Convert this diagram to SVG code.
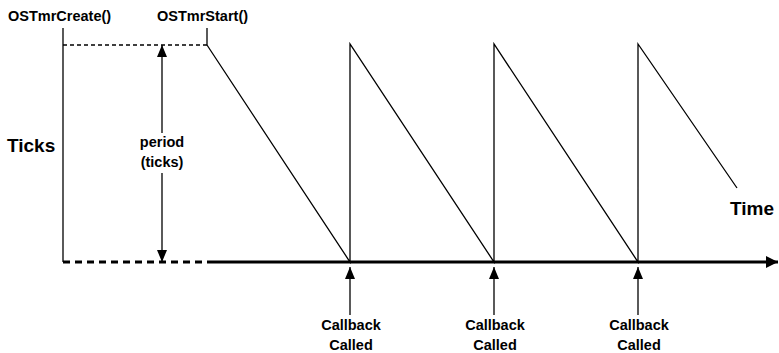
<svg xmlns="http://www.w3.org/2000/svg" width="779" height="353" viewBox="0 0 779 353">
<style>
text{font-family:"Liberation Sans",Arial,sans-serif;font-weight:bold;fill:#000}
.s{font-size:14.5px}
.b{font-size:19px}
.ln{stroke:#000;stroke-width:1.3;fill:none}
.th{stroke:#000;stroke-width:3;fill:none}
</style>
<defs>
<marker id="ah" viewBox="0 0 10 10" refX="10" refY="5" markerWidth="12" markerHeight="10" markerUnits="userSpaceOnUse" orient="auto-start-reverse" preserveAspectRatio="none"><path d="M0,0 L10,5 L0,10 z" fill="#000"/></marker>
<marker id="ah2" viewBox="0 0 10 10" refX="10" refY="5" markerWidth="12" markerHeight="12" markerUnits="userSpaceOnUse" orient="auto"><path d="M0,0 L10,5 L0,10 z" fill="#000"/></marker>
</defs>
<g id="labels">
<text class="s" x="8" y="21">OSTmrCreate()</text>
<text class="s" x="157" y="21">OSTmrStart()</text>
<text class="b" x="7" y="152">Ticks</text>
<text class="b" x="730" y="215">Time</text>
<text class="s" x="162" y="147" text-anchor="middle">period</text>
<text class="s" x="162" y="167" text-anchor="middle">(ticks)</text>
</g>
<g id="connectors">
<line class="ln" x1="63" y1="28" x2="63" y2="262"/>
<line class="ln" x1="207" y1="28" x2="207" y2="45"/>
<line class="ln" x1="63" y1="45" x2="207" y2="45" stroke-dasharray="4,3"/>
<line class="th" x1="63" y1="262" x2="207" y2="262" stroke-dasharray="7,5"/>
<line class="th" x1="207" y1="262" x2="778" y2="262" marker-end="url(#ah2)"/>
<polyline class="ln" points="207,45 350,262 350,44 494,262 494,44 638,262 638,44 737,188"/>
<line class="ln" x1="162" y1="133" x2="162" y2="45" marker-end="url(#ah)"/>
<line class="ln" x1="162" y1="173" x2="162" y2="262" marker-end="url(#ah)"/>
<line class="ln" x1="350" y1="315" x2="350" y2="267" marker-end="url(#ah)"/>
<line class="ln" x1="494" y1="315" x2="494" y2="267" marker-end="url(#ah)"/>
<line class="ln" x1="638" y1="315" x2="638" y2="267" marker-end="url(#ah)"/>
</g>
<g id="callback1"><text class="s" x="351" y="330" text-anchor="middle">Callback</text><text class="s" x="351" y="350" text-anchor="middle">Called</text></g>
<g id="callback2"><text class="s" x="495" y="330" text-anchor="middle">Callback</text><text class="s" x="495" y="350" text-anchor="middle">Called</text></g>
<g id="callback3"><text class="s" x="639" y="330" text-anchor="middle">Callback</text><text class="s" x="639" y="350" text-anchor="middle">Called</text></g>
</svg>
